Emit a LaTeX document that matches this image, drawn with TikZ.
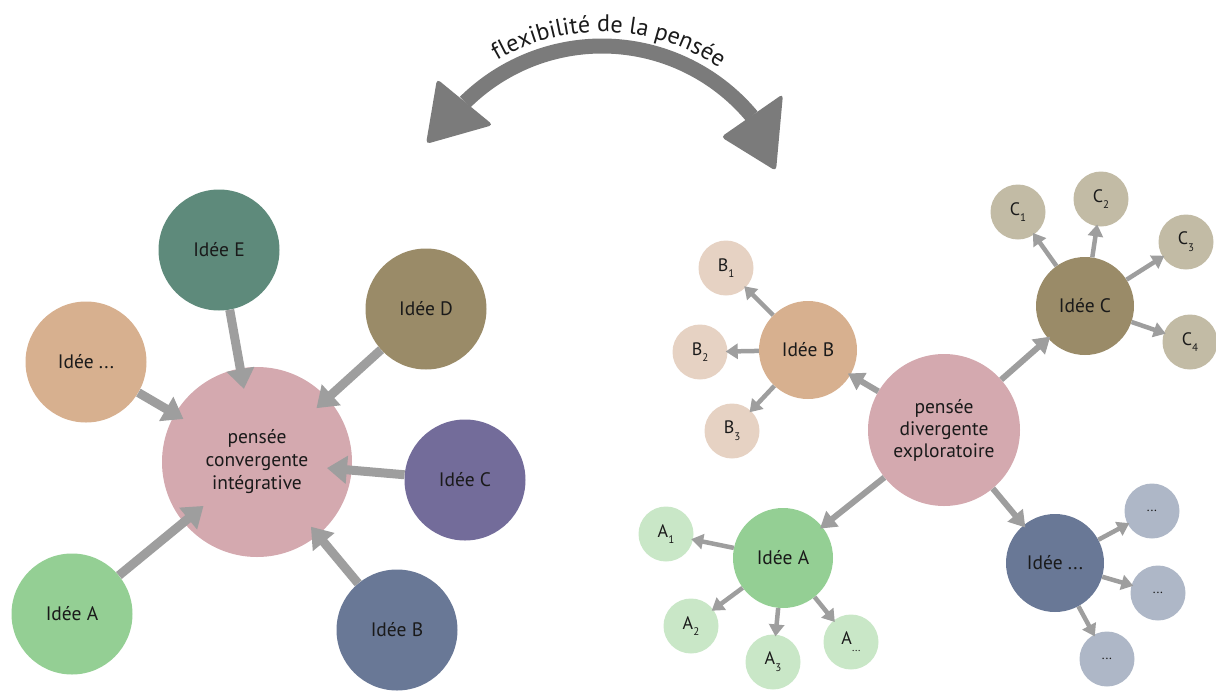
\documentclass[tikz,border=0pt]{standalone}
\usepackage{fontspec}
\setmainfont{PT Sans}
\usetikzlibrary{arrows.meta,decorations.text}
\definecolor{cpink}{HTML}{D4A9AF}
\definecolor{cteal}{HTML}{5E8A7B}
\definecolor{colive}{HTML}{9A8B68}
\definecolor{ctan}{HTML}{D7B08F}
\definecolor{cpurple}{HTML}{736C9A}
\definecolor{cgreen}{HTML}{94CF94}
\definecolor{cslate}{HTML}{697896}
\definecolor{arrgray}{HTML}{9E9E9E}
\definecolor{topgray}{HTML}{7B7B7B}
\definecolor{tanlight}{HTML}{E6D2C3}
\definecolor{olivelight}{HTML}{C2BBA5}
\definecolor{greenlight}{HTML}{C9E7C7}
\definecolor{slatelight}{HTML}{AEB7C7}
\definecolor{txt}{HTML}{1A1A1A}
\newcommand{\sbx}[1]{\raisebox{-0.75ex}{\fontsize{11}{11}\selectfont #1}}
\begin{document}
\begin{tikzpicture}[x=1pt,y=-1pt,
  bubble/.style={circle, fill=#1, inner sep=0pt, text=txt, align=center},
  lcfont/.style={font=\fontsize{19.5}{23}\selectfont},
  rcfont/.style={font=\fontsize{19.5}{22}\selectfont},
  ideafont/.style={font=\fontsize{19.5}{22}\selectfont},
  subfont/.style={font=\fontsize{18}{20}\selectfont},
  dotfont/.style={font=\fontsize{13}{13}\selectfont},
  larr/.style={draw=arrgray, line width=9pt, -{Triangle[length=20pt,width=27pt]}},
  rarr/.style={draw=arrgray, line width=6pt, -{Triangle[length=16pt,width=19pt]}, shorten >=-3pt},
  sarr/.style={draw=arrgray, line width=4.5pt, -{Triangle[length=12pt,width=15pt]}, shorten >=-2pt}
]
\useasboundingbox (0,0) rectangle (1216,691);

% ---------- top double arrow ----------
\draw[topgray, line width=15pt] (602,241) ++(225.4:195) arc[start angle=225.4, end angle=320.2, radius=195];
\fill[topgray, rounded corners=4pt] (426,144) -- (437,79) -- (493,125) -- cycle;
\fill[topgray, rounded corners=4pt] (776,171) -- (783,94) -- (721,137) -- cycle;
\path[decorate, decoration={text along path, text align=center,
  text={|\fontsize{24}{24}\selectfont\color{txt}|flexibilit{é} de la pens{é}e}}]
  (602,241) ++(200:209) arc[start angle=200, end angle=344, radius=209];

% ---------- left cluster ----------
\node[bubble=cpink, minimum size=190pt, lcfont] (LC) at (257,462) {pensée\\convergente\\intégrative};
\node[bubble=cteal, minimum size=121pt, ideafont] (LE) at (219,250) {Idée E};
\node[bubble=colive, minimum size=121pt, ideafont] (LD) at (426,309) {Idée D};
\node[bubble=ctan, minimum size=121pt, ideafont] (LX) at (86,362) {Idée ...};
\node[bubble=cpurple, minimum size=121pt, ideafont] (LCc) at (465,480) {Idée C};
\node[bubble=cgreen, minimum size=121pt, ideafont] (LA) at (72,614) {Idée A};
\node[bubble=cslate, minimum size=121pt, ideafont] (LB) at (397,630) {Idée B};

\draw[larr, shorten >=-21pt] (LE) -- (LC);
\draw[larr, shorten >=-10pt] (LX) -- (LC);
\draw[larr, shorten >=-15pt] (LD) -- (LC);
\draw[larr, shorten >=-25pt] (LCc) -- (LC);
\draw[larr, shorten >=-11pt] (LB) -- (LC);
\draw[larr, shorten >=-26pt] (LA) -- (LC);

% ---------- right cluster ----------
\node[bubble=cpink, minimum size=152pt, rcfont] (RC) at (944,430) {pensée\\divergente\\exploratoire};
\node[bubble=ctan, minimum size=98pt, ideafont] (RB) at (808,350) {Idée B};
\node[bubble=colive, minimum size=98pt, ideafont] (RCc) at (1085,306) {Idée C};
\node[bubble=cgreen, minimum size=100pt, ideafont] (RA) at (783,558) {Idée A};
\node[bubble=cslate, minimum size=98pt, ideafont] (RX) at (1055,563) {Idée ...};

\node[bubble=tanlight, minimum size=55pt, subfont] (B1) at (726,268) {B\sbx{1}};
\node[bubble=tanlight, minimum size=55pt, subfont] (B2) at (700,352) {B\sbx{2}};
\node[bubble=tanlight, minimum size=55pt, subfont] (B3) at (732,431) {B\sbx{3}};

\node[bubble=olivelight, minimum size=55pt, subfont] (C1) at (1018,212) {C\sbx{1}};
\node[bubble=olivelight, minimum size=55pt, subfont] (C2) at (1101,199) {C\sbx{2}};
\node[bubble=olivelight, minimum size=55pt, subfont] (C3) at (1186,242) {C\sbx{3}};
\node[bubble=olivelight, minimum size=55pt, subfont] (C4) at (1190,342) {C\sbx{4}};

\node[bubble=greenlight, minimum size=55pt, subfont] (A1) at (666,534) {A\sbx{1}};
\node[bubble=greenlight, minimum size=55pt, subfont] (A2) at (691,626) {A\sbx{2}};
\node[bubble=greenlight, minimum size=55pt, subfont] (A3) at (773,662) {A\sbx{3}};
\node[bubble=greenlight, minimum size=55pt, subfont] (A4) at (851,642) {A\sbx{...}};

\node[bubble=slatelight, minimum size=55pt, dotfont] (X1) at (1152,511) {...};
\node[bubble=slatelight, minimum size=55pt, dotfont] (X2) at (1158,593) {...};
\node[bubble=slatelight, minimum size=55pt, dotfont] (X3) at (1107,659) {...};

\draw[rarr] (RC) -- (RB);
\draw[rarr] (RC) -- (RCc);
\draw[rarr] (RC) -- (RA);
\draw[rarr] (RC) -- (RX);

\draw[sarr] (RB) -- (B1);
\draw[sarr] (RB) -- (B2);
\draw[sarr] (RB) -- (B3);
\draw[sarr] (RCc) -- (C1);
\draw[sarr] (RCc) -- (C2);
\draw[sarr] (RCc) -- (C3);
\draw[sarr] (RCc) -- (C4);
\draw[sarr] (RA) -- (A1);
\draw[sarr] (RA) -- (A2);
\draw[sarr] (RA) -- (A3);
\draw[sarr] (RA) -- (A4);
\draw[sarr] (RX) -- (X1);
\draw[sarr] (RX) -- (X2);
\draw[sarr] (RX) -- (X3);
\end{tikzpicture}
\end{document}
